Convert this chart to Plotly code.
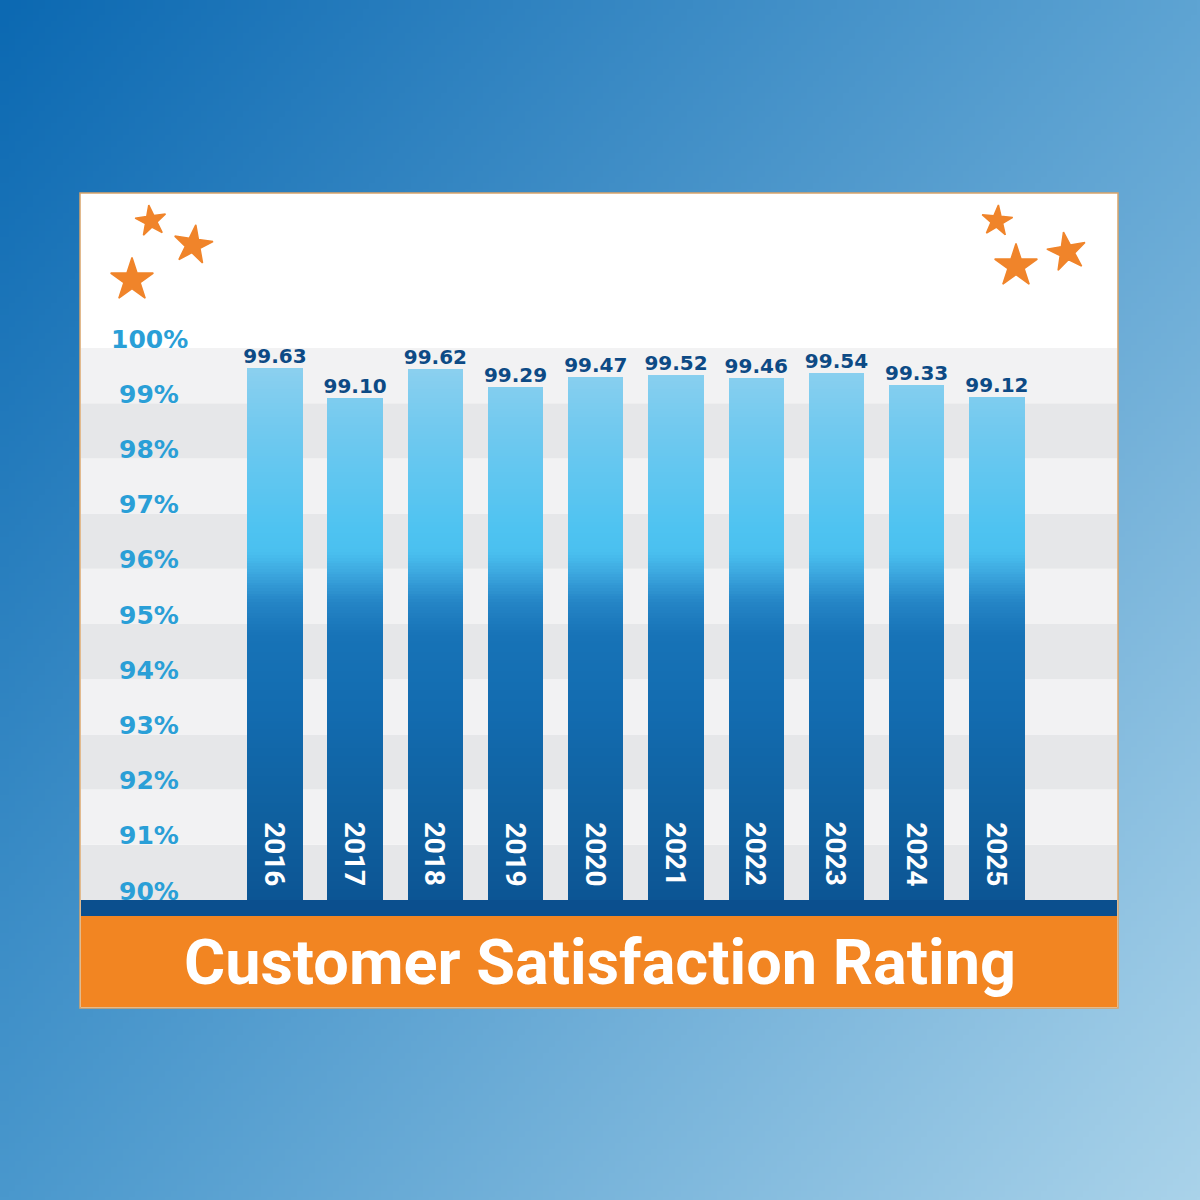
import base64
import struct
import zlib

import numpy as np
import plotly.graph_objects as go

# ---------------- data ----------------
years = ["2016", "2017", "2018", "2019", "2020", "2021", "2022", "2023", "2024", "2025"]
ratings = [99.63, 99.10, 99.62, 99.29, 99.47, 99.52, 99.46, 99.54, 99.33, 99.12]
tick_values = [90, 91, 92, 93, 94, 95, 96, 97, 98, 99, 100]
tick_labels = [f"{v}%" for v in tick_values]
title_text = "Customer Satisfaction Rating"

W, H = 1200, 1200
Y_MIN, Y_MAX = 90, 100

# ---------------- helpers ----------------
def hex2rgb(h):
    h = h.lstrip("#")
    return np.array([int(h[i:i + 2], 16) for i in (0, 2, 4)], dtype=float)


def png_data_uri(arr):
    arr = np.clip(arr, 0, 255).astype(np.uint8)
    h, w, _ = arr.shape
    raw = b"".join(b"\x00" + arr[y].tobytes() for y in range(h))

    def chunk(tag, data):
        c = struct.pack(">I", len(data)) + tag + data
        return c + struct.pack(">I", zlib.crc32(tag + data) & 0xFFFFFFFF)

    png = (b"\x89PNG\r\n\x1a\n"
           + chunk(b"IHDR", struct.pack(">IIBBBBB", w, h, 8, 2, 0, 0, 0))
           + chunk(b"IDAT", zlib.compress(raw, 9))
           + chunk(b"IEND", b""))
    return "data:image/png;base64," + base64.b64encode(png).decode()


# background: bilinear four-corner gradient
N = 200
tl, tr = hex2rgb("#0c69b2"), hex2rgb("#5ea4d3")
bl, br = hex2rgb("#4a98cd"), hex2rgb("#aad3ea")
u = np.linspace(0, 1, N)[None, :, None]
v = np.linspace(0, 1, N)[:, None, None]
bg = (1 - u) * (1 - v) * tl + u * (1 - v) * tr + (1 - u) * v * bl + u * v * br
bg_uri = png_data_uri(bg)

# bar gradient stops (value on axis -> colour)
grad_stops = [
    (90.0, "#0c5594"), (91.5, "#0f609f"), (93.5, "#136cb0"), (94.8, "#1773b7"),
    (95.4, "#2585c6"), (95.9, "#3ba6de"), (96.3, "#4ac0ef"), (96.7, "#4ec3f1"),
    (98.5, "#70c9ef"), (99.5, "#88cfef"), (100.0, "#95d4f0"),
]


def grad_color(val):
    for (v0, c0), (v1, c1) in zip(grad_stops[:-1], grad_stops[1:]):
        if v0 <= val <= v1:
            t = (val - v0) / (v1 - v0)
            c = hex2rgb(c0) * (1 - t) + hex2rgb(c1) * t
            return "rgb(%d,%d,%d)" % tuple(np.round(c).astype(int))
    return grad_stops[-1][1]


# ---------------- figure ----------------
fig = go.Figure()

# gradient bars: overlaid bars from the axis floor up to each gradient step
STEP = 0.05
n_steps = int(round((Y_MAX - Y_MIN) / STEP))
bx, by, bbase, bcol = [], [], [], []
for k in range(n_steps - 1, -1, -1):
    seg_top = Y_MIN + (k + 1) * STEP
    seg_mid = Y_MIN + (k + 0.5) * STEP
    col = grad_color(seg_mid)
    for yr, val in zip(years, ratings):
        if Y_MIN + k * STEP < val:
            bx.append(yr)
            by.append(min(val, seg_top) - Y_MIN)
            bbase.append(Y_MIN)
            bcol.append(col)

fig.add_trace(go.Bar(
    x=bx, y=by, base=bbase, width=0.69,
    marker=dict(color=bcol, line=dict(width=0)),
    hoverinfo="skip", showlegend=False,
))

# value labels
fig.add_trace(go.Scatter(
    x=years, y=ratings, mode="text",
    text=[f"{r:.2f}" for r in ratings],
    textposition="top center",
    textfont=dict(family="DejaVu Sans", size=20, color="#0d4a85", weight="bold"),
    hoverinfo="skip", showlegend=False,
))

# stars (decoration) on a pixel-space full-page axis pair
star_x = [151, 193, 132, 997, 1016, 1067]
star_y = [221, 245, 280, 221, 266, 252]
star_size = [23, 29, 32, 23, 32, 29]
star_angle = [-8, 8, 0, 5, 0, -10]
fig.add_trace(go.Scatter(
    x=star_x, y=star_y, mode="markers", xaxis="x2", yaxis="y2",
    marker=dict(symbol="star", size=star_size, angle=star_angle, opacity=1,
                color="#f0842a", line=dict(width=1.5, color="#f0842a")),
    hoverinfo="skip", showlegend=False,
))

# ---------------- shapes ----------------
shapes = []
px = lambda p: p / W
py = lambda p: 1 - p / H

# card
shapes.append(dict(type="rect", xref="paper", yref="paper", layer="below",
                   x0=px(80), x1=px(1118), y0=py(1008), y1=py(193),
                   fillcolor="white", line=dict(color="#d9a46a", width=1.5)))
# alternating bands
for i in range(Y_MIN, Y_MAX):
    shapes.append(dict(type="rect", xref="paper", yref="y", layer="below",
                       x0=px(81), x1=px(1117), y0=i, y1=i + 1,
                       fillcolor="#e6e7e9" if (i - Y_MIN) % 2 == 0 else "#f2f2f3",
                       line=dict(width=0)))
# dark strip and orange banner
shapes.append(dict(type="rect", xref="paper", yref="paper", layer="above",
                   x0=px(81), x1=px(1117), y0=py(916), y1=py(900),
                   fillcolor="#0b4f8e", line=dict(width=0)))
shapes.append(dict(type="rect", xref="paper", yref="paper", layer="above",
                   x0=px(81), x1=px(1117), y0=py(1007), y1=py(916),
                   fillcolor="#f28522", line=dict(width=0)))

# ---------------- annotations ----------------
annotations = []
for tv, tl_ in zip(tick_values, tick_labels):
    annotations.append(dict(
        x=px(149), y=tv, xref="paper", yref="y", text=tl_, showarrow=False,
        xanchor="center", yanchor="middle", yshift=9,
        font=dict(family="DejaVu Sans", size=25, color="#2a9fd7", weight="bold"),
    ))
for i, yr in enumerate(years):
    annotations.append(dict(
        x=i, y=Y_MIN, xref="x", yref="y", text=yr, showarrow=False,
        textangle=90, xanchor="center", yanchor="bottom", yshift=12,
        font=dict(family="Roboto", size=28, color="white", weight="bold"),
    ))
annotations.append(dict(
    x=px(600), y=py(962), xref="paper", yref="paper", text=title_text,
    showarrow=False, xanchor="center", yanchor="middle",
    font=dict(family="Roboto", size=63, color="white", weight="bold"),
))

fig.update_layout(
    width=W, height=H,
    margin=dict(l=0, r=0, t=0, b=0),
    paper_bgcolor="#3f8ecb",
    plot_bgcolor="rgba(0,0,0,0)",
    barmode="overlay",
    bargap=0,
    xaxis=dict(domain=[px(80), px(1118)], range=[-2.43, 10.51], type="category",
               categoryorder="array", categoryarray=years,
               visible=False, fixedrange=True),
    yaxis=dict(domain=[py(900), py(348)], range=[Y_MIN, Y_MAX],
               visible=False, fixedrange=True),
    xaxis2=dict(domain=[0, 1], range=[0, W], visible=False, anchor="y2",
                fixedrange=True),
    yaxis2=dict(domain=[0, 1], range=[H, 0], visible=False, anchor="x2",
                fixedrange=True),
    shapes=shapes,
    annotations=annotations,
    images=[dict(source=bg_uri, xref="paper", yref="paper", x=0, y=1,
                 sizex=1, sizey=1, sizing="stretch", layer="below",
                 xanchor="left", yanchor="top")],
)

fig.write_html("out.html", config={"displayModeBar": False},
               post_script="document.body.style.margin='0';")
